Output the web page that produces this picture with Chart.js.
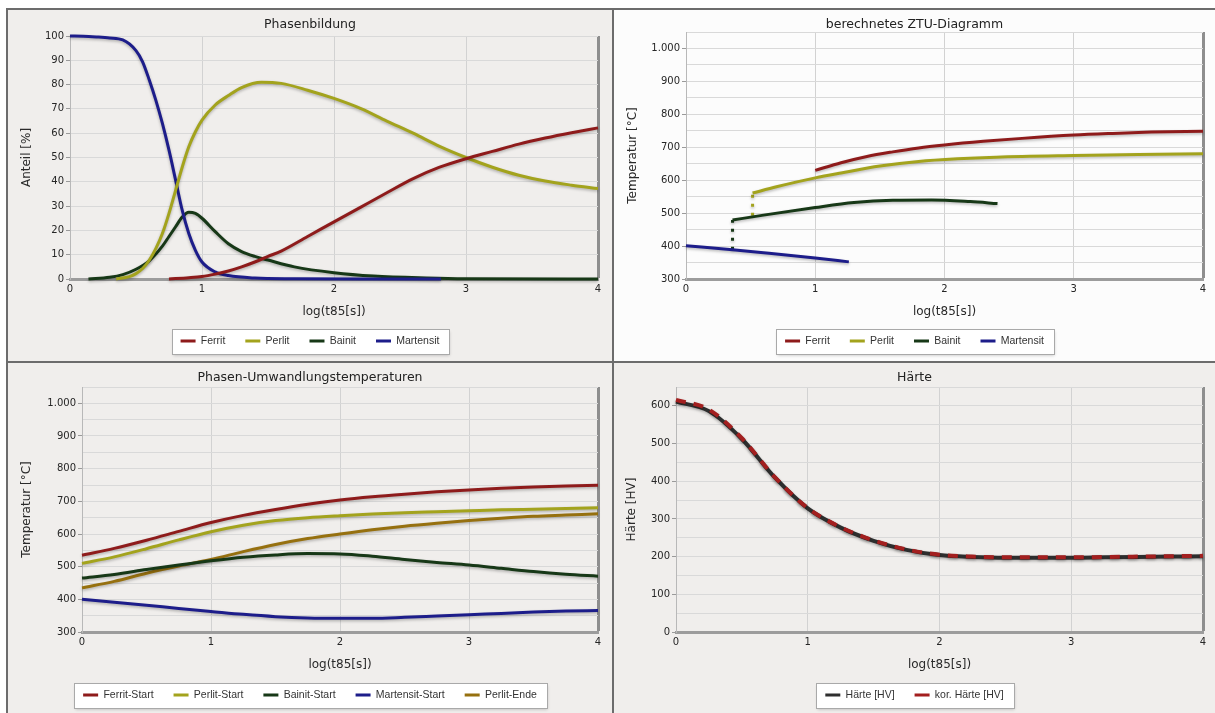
<!DOCTYPE html>
<html>
<head>
<meta charset="utf-8">
<script src="https://cdn.jsdelivr.net/npm/chart.js@4.4.1/dist/chart.umd.min.js"></script>
<style>
  html, body { margin: 0; padding: 0; width: 1215px; height: 713px; overflow: hidden; background: #ffffff; }
  #frame { position: absolute; left: 6px; top: 8px; width: 1230px; height: 730px; background: #6c6c6c; }
  .panel { position: absolute; background: #f0eeec; }
  .panel canvas { display: block; }
</style>
</head>
<body>
<div id="frame"></div>
<div class="panel" style="left:8px;top:10px;width:604px;height:351px"><canvas id="c1" width="604" height="351"></canvas></div>
<div class="panel" style="left:614px;top:10px;width:601px;height:351px;background:#fcfcfc"><canvas id="c2" width="601" height="351"></canvas></div>
<div class="panel" style="left:8px;top:363px;width:604px;height:350px"><canvas id="c3" width="604" height="350"></canvas></div>
<div class="panel" style="left:614px;top:363px;width:601px;height:350px"><canvas id="c4" width="601" height="350"></canvas></div>
<script>
// ---------- Phasenbildung: phase fractions [%] over log(t85[s]) ----------
const ferritX        = [0.75, 0.9, 1.0, 1.1, 1.2, 1.3, 1.4, 1.5, 1.6, 1.8, 2.0, 2.2, 2.4, 2.6, 2.8, 3.0, 3.2, 3.4, 3.6, 3.8, 4.0];
const ferritAnteil   = [0, 0.5, 1, 2, 3.3, 5, 7, 9.3, 11.5, 17.5, 23.5, 29.5, 35.5, 41.3, 46, 49.5, 52.5, 55.5, 58, 60.2, 62.2];
const perlitX        = [0.35, 0.45, 0.5, 0.55, 0.6, 0.65, 0.7, 0.75, 0.8, 0.85, 0.9, 0.95, 1.0, 1.1, 1.2, 1.3, 1.45, 1.6, 1.8, 2.0, 2.2, 2.4, 2.6, 2.8, 3.0, 3.2, 3.4, 3.6, 3.8, 4.0];
const perlitAnteil   = [0, 1, 2.2, 4.3, 7.7, 12.5, 18.7, 27, 36.5, 46, 54.4, 60.6, 65.4, 71.6, 75.5, 78.8, 81, 80.5, 77.7, 74.3, 70.2, 65, 60, 54.6, 50, 46, 42.7, 40.3, 38.6, 37.2];
const bainitX        = [0.14, 0.3, 0.4, 0.5, 0.6, 0.7, 0.75, 0.8, 0.85, 0.9, 0.95, 1.0, 1.1, 1.2, 1.3, 1.4, 1.5, 1.7, 2.0, 2.3, 2.7, 3.0, 4.0];
const bainitAnteil   = [0, 0.7, 1.8, 4, 7.5, 13.5, 17.5, 21.5, 25.5, 27.5, 27, 25, 19.5, 14.5, 11.3, 9.3, 7.8, 5, 2.6, 1.2, 0.4, 0.1, 0];
const martensitX     = [0, 0.1, 0.2, 0.3, 0.4, 0.5, 0.55, 0.6, 0.65, 0.7, 0.75, 0.8, 0.85, 0.9, 0.95, 1.0, 1.1, 1.2, 1.4, 1.7, 2.2, 2.81];
const martensitAnteil= [100, 99.9, 99.6, 99.2, 98.4, 94, 89.4, 82, 73.6, 64, 53, 40.7, 28.3, 18.7, 11.8, 7, 2.9, 1.4, 0.4, 0.1, 0, 0];

// ---------- berechnetes ZTU-Diagramm: transformation start lines [°C] ----------
const ztuFerritX     = [1.0, 1.2, 1.4, 1.6, 1.8, 2.0, 2.3, 2.6, 3.0, 3.3, 3.6, 4.0];
const ztuFerritT     = [630, 653, 672, 686, 698, 707, 718, 727, 737, 742, 746, 749];
const ztuPerlitX     = [0.515, 0.7, 1.0, 1.2, 1.5, 1.8, 2.1, 2.4, 3.0, 3.5, 4.0];
const ztuPerlitT     = [561, 580, 607, 622, 643, 657, 665, 670, 675, 678, 680];
const ztuBainitX     = [0.36, 0.6, 1.0, 1.3, 1.6, 1.9, 2.2, 2.41];
const ztuBainitT     = [479, 494, 517, 532, 539, 540, 535, 529];
const ztuMartensitX  = [0, 0.36, 0.6, 1.0, 1.26];
const ztuMartensitT  = [401, 389, 380, 364, 352];
// dotted vertical steps where the Perlit and Bainit lines begin
const ztuPerlitStepT = [492, 561];
const ztuBainitStepT = [389, 479];

// ---------- Phasen-Umwandlungstemperaturen [°C] ----------
const tGrid          = [0, 0.25, 0.5, 0.75, 1, 1.25, 1.5, 1.75, 2, 2.25, 2.5, 2.75, 3, 3.25, 3.5, 3.75, 4];
const ferritStart    = [535, 556, 581, 608, 635, 657, 675, 691, 704, 714, 722, 729, 735, 740, 744, 747, 749];
const perlitStart    = [510, 530, 555, 582, 607, 627, 641, 650, 656, 661, 665, 668, 671, 674, 676, 678, 680];
const bainitStart    = [465, 476, 491, 505, 518, 529, 536, 540, 539, 532, 522, 513, 505, 495, 485, 477, 471];
const martensitStart = [400, 391, 382, 372, 363, 354, 347, 343, 342, 342, 345, 349, 353, 357, 361, 364, 366];
const perlitEnde     = [435, 455, 480, 502, 522, 546, 568, 586, 600, 613, 624, 633, 641, 648, 654, 658, 662];

// ---------- Härte [HV] ----------
const haerte         = [611, 586, 512, 410, 328, 277, 242, 218, 204, 199, 197, 197, 197, 198, 199, 200, 201];
const korHaerte      = [616, 590, 514, 411, 329, 278, 243, 219, 205, 200, 198, 198, 198, 199, 200, 201, 202];

const COL = {
  ferrit: '#8e1b1b', perlit: '#a3a31d', bainit: '#173817', martensit: '#1d1d8a',
  perlitEnde: '#96700f', haerte: '#2e2e2e', korHaerte: '#a31f1f'
};

const pts = (xs, ys) => xs.map((x, i) => ({ x, y: ys[i] }));
const fmt = v => String(v).replace(/\B(?=(\d{3})+(?!\d))/g, '.');

// soft drop shadow under every series line
const lineShadow = {
  id: 'lineShadow',
  beforeDatasetDraw(chart) {
    const c = chart.ctx;
    c.save();
    c.shadowColor = 'rgba(0,0,0,0.28)';
    c.shadowBlur = 3;
    c.shadowOffsetX = 0;
    c.shadowOffsetY = 1.5;
  },
  afterDatasetDraw(chart) { chart.ctx.restore(); }
};

// white framed box behind the legend entries
const legendFrame = {
  id: 'legendFrame',
  beforeDraw(chart) {
    const lg = chart.legend;
    if (!lg || !lg.legendHitBoxes || !lg.legendHitBoxes.length) return;
    const hb = lg.legendHitBoxes;
    const l = Math.round(Math.min(...hb.map(h => h.left)) - 9) + 0.5;
    const r = Math.round(Math.max(...hb.map(h => h.left + h.width)) + 10) + 0.5;
    const cy = hb[0].top + hb[0].height / 2;
    const t = Math.round(cy - 12.5) + 0.5, h = 25;
    const c = chart.ctx;
    c.save();
    c.shadowColor = 'rgba(0,0,0,0.22)';
    c.shadowBlur = 3;
    c.shadowOffsetY = 1;
    c.fillStyle = '#ffffff';
    c.fillRect(l, t, r - l, h);
    c.restore();
    c.save();
    c.strokeStyle = '#a9a9a9';
    c.lineWidth = 1;
    c.strokeRect(l, t, r - l, h);
    c.restore();
  }
};

function line(label, data, color, extra) {
  return Object.assign({
    label, data,
    borderColor: color, backgroundColor: color,
    borderWidth: 3, pointRadius: 0, pointHoverRadius: 0,
    cubicInterpolationMode: 'monotone', fill: false, clip: 6
  }, extra || {});
}

function makeChart(id, cfg) {
  const FONT = 'DejaVu Sans';
  return new Chart(document.getElementById(id), {
    type: 'line',
    data: { datasets: cfg.datasets },
    plugins: [lineShadow, legendFrame],
    options: {
      responsive: false, animation: false, devicePixelRatio: 1,
      layout: { padding: { left: cfg.pad, right: cfg.pad, top: 0, bottom: cfg.padBottom } },
      events: [],
      plugins: {
        tooltip: { enabled: false },
        title: {
          display: true, text: cfg.title, color: '#222',
          font: { family: FONT, size: 12.5, weight: 'normal' },
          padding: { top: 7, bottom: cfg.titlePadBottom }
        },
        legend: {
          position: 'bottom',
          labels: {
            usePointStyle: true, pointStyle: 'line', pointStyleWidth: 15,
            padding: 20, color: '#333',
            font: { family: 'Liberation Sans', size: 10.5 },
            filter: item => item.text !== '',
            sort: (a, b) => a.datasetIndex - b.datasetIndex,
            generateLabels(chart) {
              return Chart.defaults.plugins.legend.labels.generateLabels(chart).map(it => {
                it.lineWidth = 3;
                it.lineDash = (it.lineDash && it.lineDash.length) ? [2, 2] : [];
                return it;
              });
            }
          }
        }
      },
      scales: {
        x: {
          type: 'linear', min: 0, max: 4,
          afterFit: s => { s.height = cfg.xHeight; },
          ticks: { stepSize: 1, padding: 4, color: '#262626', font: { family: FONT, size: 10 } },
          grid: {
            drawTicks: false,
            color: c => c.tick && c.tick.value === 4 ? '#8e8e8e' : (c.tick && c.tick.value === 0 ? 'rgba(0,0,0,0)' : '#d2d2d2'),
            lineWidth: c => c.tick && c.tick.value === 4 ? 3 : 1
          },
          border: { display: true, color: '#9c9c9c', width: 3 },
          title: {
            display: true, text: 'log(t85[s])', color: '#2a2a2a',
            font: { family: FONT, size: 12 },
            padding: { top: 0, bottom: cfg.xTitlePad }
          }
        },
        y: {
          type: 'linear', min: cfg.yMin, max: cfg.yMax,
          afterFit: s => { s.width = cfg.yWidth; },
          ticks: {
            stepSize: cfg.yStep, padding: 2, color: '#262626',
            font: { family: FONT, size: 10 },
            callback: v => (v % cfg.yMajor === 0 && v <= cfg.yLabelMax) ? fmt(v) : ''
          },
          grid: {
            tickLength: 4,
            color: '#d9d9d9',
            tickColor: c => (c.tick && c.tick.value % cfg.yMajor === 0) ? '#9a9a9a' : 'rgba(0,0,0,0)'
          },
          border: { display: true, color: '#b8b8b8', width: 1 },
          title: {
            display: true, text: cfg.yTitle, color: '#2a2a2a',
            font: { family: FONT, size: 12 },
            padding: { top: cfg.yTitlePad, bottom: 0 }
          }
        }
      }
    }
  });
}

// Phasenbildung
makeChart('c1', {
  title: 'Phasenbildung', yTitle: 'Anteil [%]',
  yMin: 0, yMax: 100, yStep: 5, yMajor: 10, yLabelMax: 100,
  pad: 14, padBottom: 4.75, titlePadBottom: 4.0, xHeight: 36.75, xTitlePad: -3.45,
  yWidth: 48, yTitlePad: -2.2,
  datasets: [
    line('Ferrit', pts(ferritX, ferritAnteil), COL.ferrit, { order: 0 }),
    line('Perlit', pts(perlitX, perlitAnteil), COL.perlit, { order: 1 }),
    line('Bainit', pts(bainitX, bainitAnteil), COL.bainit, { order: 3 }),
    line('Martensit', pts(martensitX, martensitAnteil), COL.martensit, { order: 2 })
  ]
});

// berechnetes ZTU-Diagramm
makeChart('c2', {
  title: 'berechnetes ZTU-Diagramm', yTitle: 'Temperatur [°C]',
  yMin: 300, yMax: 1050, yStep: 50, yMajor: 100, yLabelMax: 1000,
  pad: 12, padBottom: 4.75, titlePadBottom: 0.0, xHeight: 36.75, xTitlePad: -3.45,
  yWidth: 60, yTitlePad: -0.2,
  datasets: [
    line('Ferrit', pts(ztuFerritX, ztuFerritT), COL.ferrit),
    line('Perlit', pts(ztuPerlitX, ztuPerlitT), COL.perlit),
    line('Bainit', pts(ztuBainitX, ztuBainitT), COL.bainit),
    line('Martensit', pts(ztuMartensitX, ztuMartensitT), COL.martensit),
    line('', pts([ztuPerlitX[0], ztuPerlitX[0]], ztuPerlitStepT), COL.perlit, { borderDash: [3, 6], cubicInterpolationMode: 'default', tension: 0 }),
    line('', pts([ztuBainitX[0], ztuBainitX[0]], ztuBainitStepT), COL.bainit, { borderDash: [3, 6], cubicInterpolationMode: 'default', tension: 0 })
  ]
});

// Phasen-Umwandlungstemperaturen
makeChart('c3', {
  title: 'Phasen-Umwandlungstemperaturen', yTitle: 'Temperatur [°C]',
  yMin: 300, yMax: 1050, yStep: 50, yMajor: 100, yLabelMax: 1000,
  pad: 14, padBottom: 2.75, titlePadBottom: 2.0, xHeight: 37.75, xTitlePad: -2.45,
  yWidth: 60, yTitlePad: -2.2,
  datasets: [
    line('Ferrit-Start', pts(tGrid, ferritStart), COL.ferrit),
    line('Perlit-Start', pts(tGrid, perlitStart), COL.perlit),
    line('Bainit-Start', pts(tGrid, bainitStart), COL.bainit),
    line('Martensit-Start', pts(tGrid, martensitStart), COL.martensit),
    line('Perlit-Ende', pts(tGrid, perlitEnde), COL.perlitEnde)
  ]
});

// Härte
makeChart('c4', {
  title: 'Härte', yTitle: 'Härte [HV]',
  yMin: 0, yMax: 650, yStep: 50, yMajor: 100, yLabelMax: 600,
  pad: 12, padBottom: 2.75, titlePadBottom: 2.0, xHeight: 37.75, xTitlePad: -2.45,
  yWidth: 50, yTitlePad: -1.2,
  datasets: [
    line('Härte [HV]', pts(tGrid, haerte), COL.haerte, { borderWidth: 4, order: 1 }),
    line('kor. Härte [HV]', pts(tGrid, korHaerte), COL.korHaerte, { borderWidth: 4, borderDash: [10, 8], order: 0 })
  ]
});
</script>
</body>
</html>
